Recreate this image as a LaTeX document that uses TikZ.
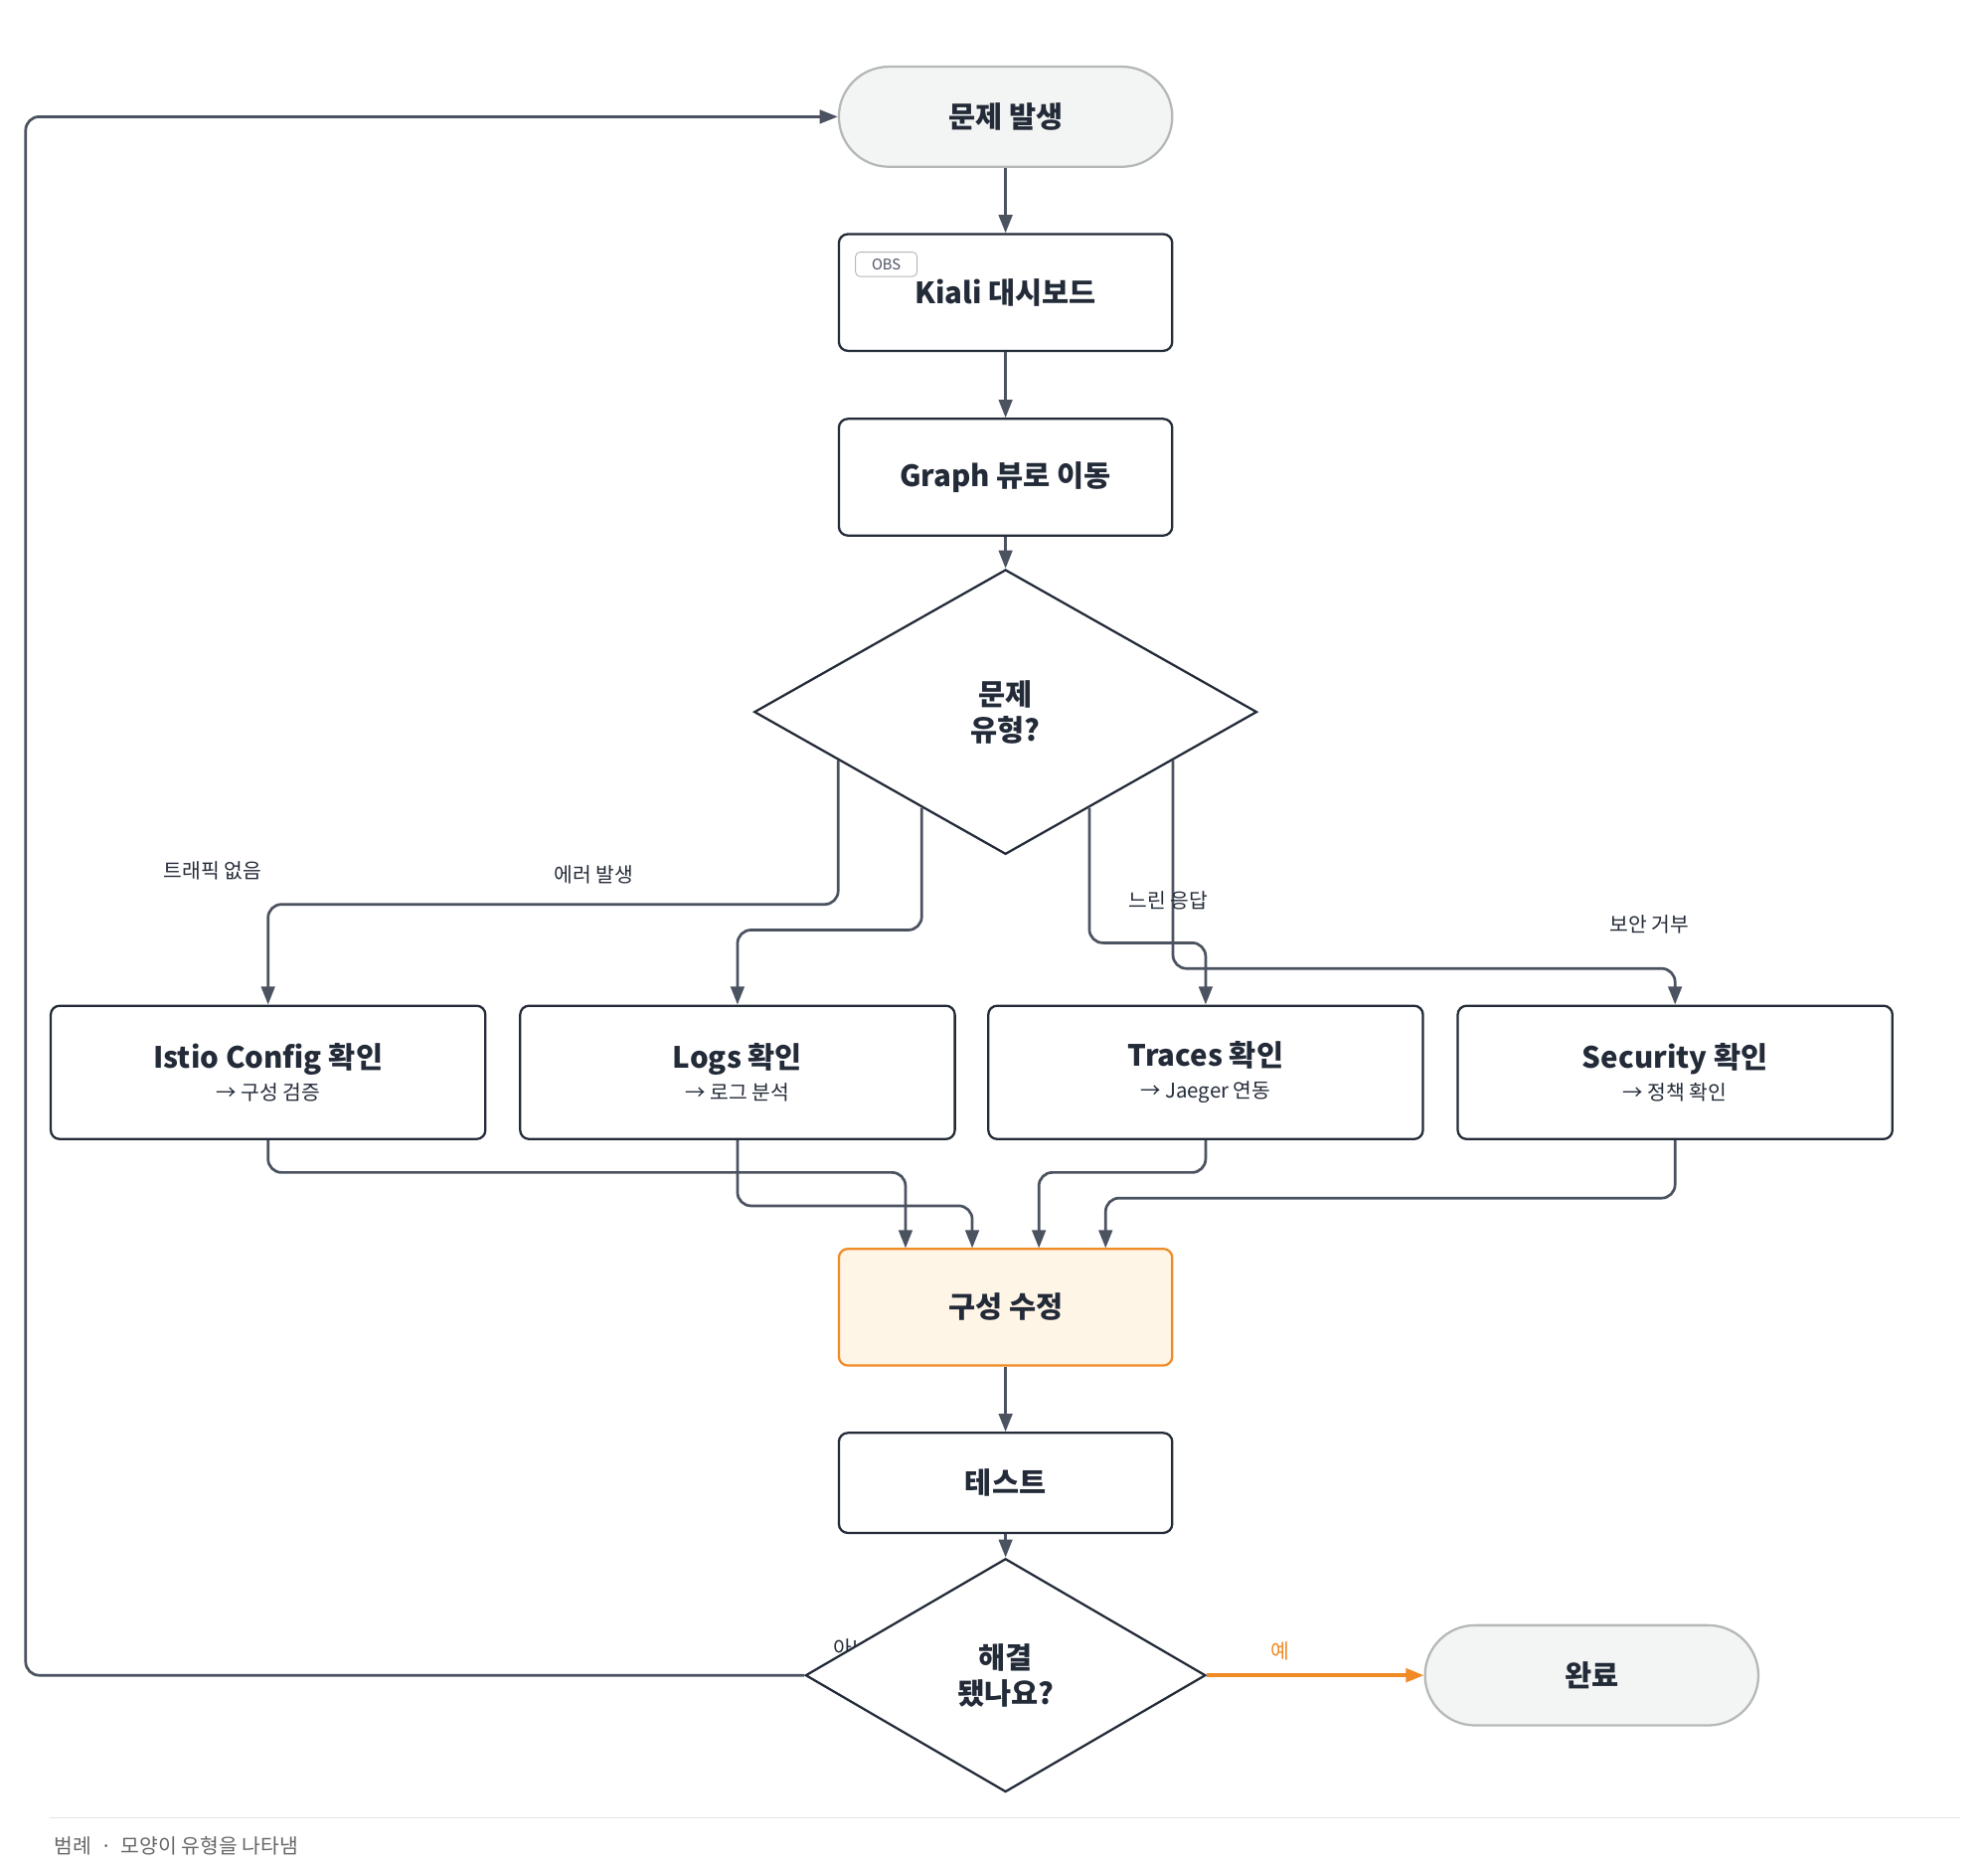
\documentclass[tikz,border=0pt]{standalone}
\usepackage{fontspec}
\setmainfont{Noto Sans CJK KR}
\usetikzlibrary{arrows.meta, shapes.geometric, positioning, calc}
\definecolor{ink}{HTML}{232B38}
\definecolor{wire}{HTML}{4B5260}
\definecolor{flame}{HTML}{F08A24}
\definecolor{cream}{HTML}{FFF5E6}
\definecolor{mist}{HTML}{F3F5F4}
\definecolor{fog}{HTML}{B4B8B6}

\begin{document}
\begin{tikzpicture}[x=0.02cm, y=-0.02cm,
  >={Triangle[length=8pt, width=6pt]},
  every node/.style={font=\fontsize{13}{16}\selectfont\bfseries, text=ink, align=center},
  stage/.style={draw=ink, line width=1pt, rounded corners=4pt, fill=white, minimum width=5.2cm, minimum height=1.82cm},
  probe/.style={stage, minimum width=6.78cm, minimum height=2.08cm},
  terminal/.style={draw=fog, line width=1pt, fill=mist, rounded corners=0.78cm, minimum width=5.2cm, minimum height=1.56cm},
  choice/.style={draw=ink, line width=1pt, fill=white, diamond, inner sep=0pt},
  flow/.style={->, draw=wire, line width=1.2pt, rounded corners=6pt},
  tag/.style={font=\fontsize{9}{11}\selectfont, text=ink}]
  \useasboundingbox (0,0) rectangle (1550,1454);

  % main column
  \node[terminal] (start) at (784,91) {문제 발생};
  \node[stage] (kiali) at (784,228) {Kiali 대시보드};
  \node[draw=fog, rounded corners=2pt, font=\fontsize{6.5}{8}\selectfont, text=wire, minimum width=0.96cm, minimum height=0.38cm, inner sep=0pt] (obs) at (691,206) {OBS};
  \node[stage] (graph) at (784,372) {Graph 뷰로 이동};
  \node[choice, minimum width=7.84cm, minimum height=4.44cm] (kind) at (784,555) {문제\\유형?};

  % probe boxes
  \node[probe] (istio) at (209,836) {Istio Config 확인\\[-2pt]{\fontsize{9}{11}\selectfont\mdseries → 구성 검증}};
  \node[probe] (logs) at (575,836) {Logs 확인\\[-2pt]{\fontsize{9}{11}\selectfont\mdseries → 로그 분석}};
  \node[probe] (traces) at (940,836) {Traces 확인\\[-2pt]{\fontsize{9}{11}\selectfont\mdseries → Jaeger 연동}};
  \node[probe] (sec) at (1306,836) {Security 확인\\[-2pt]{\fontsize{9}{11}\selectfont\mdseries → 정책 확인}};

  \node[stage, draw=flame, fill=cream] (fix) at (784,1019) {구성 수정};
  \node[stage, minimum height=1.56cm] (test) at (784,1156) {테스트};
  \node[tag] (nolbl) at (672,1285) {아니오};
  \node[choice, minimum width=6.24cm, minimum height=3.64cm] (done) at (784,1306) {해결\\됐나요?};
  \node[terminal] (end) at (1241,1306) {완료};

  % exit points on the first diamond
  \coordinate (k1) at ($(kind.west)!0.337!(kind.south)$);
  \coordinate (k2) at ($(kind.west)!0.668!(kind.south)$);
  \coordinate (k3) at ($(kind.east)!0.668!(kind.south)$);
  \coordinate (k4) at ($(kind.east)!0.337!(kind.south)$);

  \draw[flow] (start) -- (kiali);
  \draw[flow] (kiali) -- (graph);
  \draw[flow] (graph) -- (kind);
  \draw[flow] (k1) |- (209,705) -- (istio.north);
  \draw[flow] (k2) |- (575,725) -- (logs.north);
  \draw[flow] (k3) |- (940,735) -- (traces.north);
  \draw[flow] (k4) |- (1306,755) -- (sec.north);
  \node[tag] (l1) at (166,679) {트래픽 없음};
  \node[tag] (l2) at (463,682) {에러 발생};
  \node[tag] (l3) at (911,702) {느린 응답};
  \node[tag] (l4) at (1286,721) {보안 거부};

  \draw[flow] (istio.south) |- (706,914) -- (706,973);
  \draw[flow] (logs.south) |- (758,940) -- (758,973);
  \draw[flow] (traces.south) |- (810,914) -- (810,973);
  \draw[flow] (sec.south) |- (862,934) -- (862,973);
  \draw[flow] (fix) -- (test);
  \draw[flow] (test) -- (done);
  \draw[flow, draw=flame, line width=1.5pt] (done.east) -- (end.west);
  \node[tag, text=flame] (yes) at (998,1287) {예};
  \draw[flow] (done.west) -| (20,91) -- (start.west);

  % legend
  \draw[draw=black!10, line width=0.8pt] (39,1417) -- (1528,1417);
  \node[anchor=west, font=\fontsize{9}{11}\selectfont\mdseries, text=black!60] (legend) at (36,1439) {범례 \ · \ 모양이 유형을 나타냄};
\end{tikzpicture}
\end{document}
